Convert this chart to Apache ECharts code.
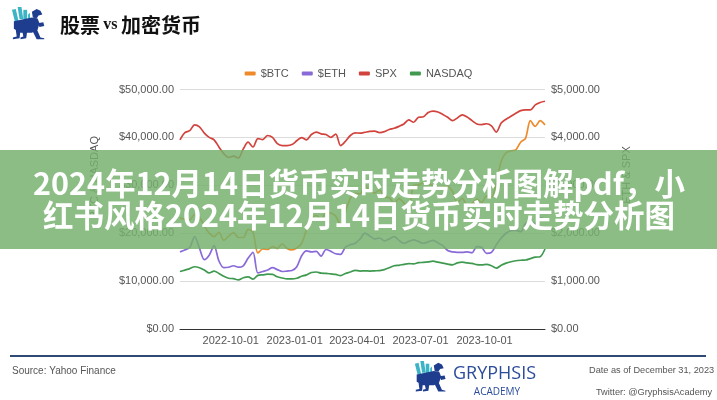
<!DOCTYPE html>
<html><head><meta charset="utf-8">
<script src="https://cdn.jsdelivr.net/npm/echarts@6/dist/echarts.min.js"></script>
<style>html,body{margin:0;padding:0;background:#fff}#c{width:717px;height:400px}</style>
</head><body><div id="c"></div>
<script>
const dates = ['2022-07-20','2022-07-27','2022-08-03','2022-08-10','2022-08-17','2022-08-24','2022-08-31','2022-09-07','2022-09-14','2022-09-21','2022-09-28','2022-10-05','2022-10-12','2022-10-19','2022-10-26','2022-11-02','2022-11-09','2022-11-16','2022-11-23','2022-11-30','2022-12-07','2022-12-14','2022-12-21','2022-12-28',
'2023-01-04','2023-01-11','2023-01-18','2023-01-25','2023-02-01','2023-02-08','2023-02-15','2023-02-22','2023-03-01','2023-03-08','2023-03-15','2023-03-22','2023-03-29','2023-04-05','2023-04-12','2023-04-19','2023-04-26','2023-05-03','2023-05-10','2023-05-17','2023-05-24','2023-05-31','2023-06-07','2023-06-14','2023-06-21','2023-06-28','2023-07-05','2023-07-12','2023-07-19','2023-07-26','2023-08-02','2023-08-09','2023-08-16','2023-08-23','2023-08-30','2023-09-06','2023-09-13','2023-09-20','2023-09-27','2023-10-04','2023-10-11','2023-10-18','2023-10-25','2023-11-01','2023-11-08','2023-11-15','2023-11-22','2023-11-29','2023-12-06','2023-12-13','2023-12-20','2023-12-27'];
const btc = [23200,22900,22800,23900,23300,21500,20000,19300,20200,18500,19400,20100,19100,19100,20800,20200,15900,16700,16600,17200,16800,17800,16800,16500,
16900,17900,20700,23000,23700,22900,24300,24200,23600,21700,24400,27300,28300,28200,30000,28800,28400,29000,27600,27400,26300,27200,26300,25100,30000,30100,30500,30400,29900,29400,29700,29800,28700,26400,27300,25800,26200,27100,26400,27800,27500,30500,35000,36800,37200,37400,39000,39800,43500,42300,43500,42600];
const eth = [1610,1650,1700,1930,1690,1450,1540,1740,1420,1280,1290,1320,1290,1320,1480,1600,1170,1200,1230,1280,1240,1200,1210,1220,
1300,1530,1630,1610,1620,1520,1660,1620,1570,1560,1710,1760,1790,1880,2000,1940,1880,1900,1840,1880,1930,1850,1790,1830,1860,1830,1790,1820,1850,1800,1740,1640,1610,1600,1600,1610,1590,1720,1700,1580,1600,1760,1900,2000,2050,2060,2030,2200,2240,2200,2320,2300];
const spx = [3950,4100,4140,4260,4220,4090,4000,3950,3800,3660,3580,3610,3570,3760,3900,3800,3975,3955,4040,4000,3870,3830,3830,3850,
3930,3996,3950,4060,4110,4075,4060,4000,4070,3830,3920,4040,4093,4090,4107,4125,4130,4100,4120,4165,4190,4230,4280,4366,4316,4420,4430,4520,4550,4530,4480,4420,4350,4407,4470,4425,4350,4280,4268,4285,4240,4110,4300,4380,4440,4505,4560,4575,4575,4680,4730,4755];
const nasdaq = [12000,12300,12600,13000,12800,12300,11700,12100,11600,11000,10600,10500,10250,10700,10900,10400,11200,11300,11450,11400,10900,10650,10450,10450,
10600,11000,11300,11800,11900,11650,11600,11500,11400,11150,11600,11900,12250,12100,12150,12100,12150,12200,12400,12800,13200,13300,13500,13650,13600,13850,13900,14000,14150,13950,13750,13550,13400,13800,13950,13800,13700,13450,13400,13500,13200,12700,13300,13750,14050,14250,14350,14400,14700,15000,15100,16700];
const seriesNames = ['$BTC','$ETH','SPX','NASDAQ'];
const xTickLabels = ['2022-10-01','2023-01-01','2023-04-01','2023-07-01','2023-10-01'];
const titleParts = ['股票','vs','加密货币'];
const bannerLines = ['2024年12月14日货币实时走势分析图解pdf，小','红书风格2024年12月14日货币实时走势分析图'];

function ts(s){const p=s.split('-');return new Date(+p[0],+p[1]-1,+p[2]).getTime();}
function pad(n){return (n<10?'0':'')+n;}
function fmtDate(v){const d=new Date(v);return d.getFullYear()+'-'+pad(d.getMonth()+1)+'-'+pad(d.getDate());}
function money(v){return '$'+Number(v).toLocaleString('en-US',{minimumFractionDigits:2,maximumFractionDigits:2});}
function pairs(arr){return arr.map((v,i)=>[ts(dates[i]),v]);}

const colors = ['#ef8a2c','#8a6ad6','#d2433d','#3f9a4f'];
const FONT = 'Arial, "Liberation Sans", sans-serif';

function logo(x,y,s){
  const teal='#3cb4c6', blue='#1e3d8f';
  const P=(pts,c)=>({type:'polygon',shape:{points:pts},style:{fill:c}});
  return {type:'group',x:x,y:y,scaleX:s,scaleY:s,z:50,children:[
    P([[1,3],[5,2],[8,15],[4,15]],teal),
    P([[7,0],[11,0],[13,13],[9,13]],teal),
    P([[13,3],[17,3],[17,14],[13,14]],teal),
    P([[18,8],[20,6],[20,14],[18,14]],teal),
    P([[22,5],[27,2],[31,4],[33,8],[29,9],[27,12],[23,11]],blue),
    P([[3,15],[22,11],[28,12],[30,17],[28,24],[22,27],[10,27],[3,23]],blue),
    P([[5,24],[10,24],[9,33],[2,34],[2,32],[6,31]],blue),
    P([[12,26],[17,26],[16,33],[10,34],[10,32],[13,31]],blue),
    P([[22,24],[27,23],[31,32],[35,33],[35,34],[27,34]],blue),
    P([[28,17],[34,16],[35,20],[30,21]],blue)
  ]};
}

const chart = echarts.init(document.getElementById('c'),null,{renderer:'canvas'});
chart.setOption({
  backgroundColor:'#ffffff',
  animation:false,
  color:colors,
  legend:{
    top:63,left:'center',
    data:seriesNames,
    icon:'roundRect',itemWidth:11,itemHeight:4,itemGap:13,
    textStyle:{fontFamily:FONT,fontSize:11,color:'#555'}
  },
  grid:{left:180,right:172,top:89.5,bottom:71,containLabel:false},
  xAxis:{
    type:'value',
    min:ts(dates[0]),max:ts(dates[dates.length-1]),
    axisLine:{show:true,onZero:false,lineStyle:{color:'#333',width:1}},
    axisTick:{show:false},
    splitLine:{show:false},
    axisLabel:{customValues:xTickLabels.map(ts),formatter:v=>fmtDate(v),fontFamily:FONT,fontSize:11,color:'#555',margin:6}
  },
  yAxis:[
    {type:'value',min:0,max:50000,interval:10000,
     axisLine:{show:false},axisTick:{show:false},
     splitLine:{lineStyle:{color:'#dcdcdc',width:1}},
     axisLabel:{formatter:money,fontFamily:FONT,fontSize:11,color:'#555',margin:6}},
    {type:'value',min:0,max:5000,interval:1000,position:'right',
     axisLine:{show:false},axisTick:{show:false},
     splitLine:{show:false},
     axisLabel:{formatter:money,fontFamily:FONT,fontSize:11,color:'#555',margin:6}}
  ],
  series:[
    {name:'$BTC',type:'line',yAxisIndex:0,data:pairs(btc),smooth:0.3,showSymbol:false,lineStyle:{width:1.7}},
    {name:'$ETH',type:'line',yAxisIndex:1,data:pairs(eth),smooth:0.3,showSymbol:false,lineStyle:{width:1.7}},
    {name:'SPX',type:'line',yAxisIndex:1,data:pairs(spx),smooth:0.3,showSymbol:false,lineStyle:{width:1.7}},
    {name:'NASDAQ',type:'line',yAxisIndex:0,data:pairs(nasdaq),smooth:0.3,showSymbol:false,lineStyle:{width:1.7}}
  ],
  graphic:[
    logo(11,7,0.95),
    {type:'text',x:60,y:25,z:50,style:{
      text:'{a|'+titleParts[0]+'} {b|'+titleParts[1]+'} {a|'+titleParts[2]+'}',
      verticalAlign:'middle',
      rich:{a:{fontFamily:'"Noto Sans CJK SC"',fontSize:20,fontWeight:'bold',fill:'#111'},
            b:{fontFamily:'"Liberation Serif", "DejaVu Serif", serif',fontSize:16,fontWeight:'bold',fill:'#111'}}}},
    {type:'text',x:95,y:177,rotation:Math.PI/2,z:50,style:{text:'BTC & NASDAQ',align:'center',verticalAlign:'middle',fontFamily:FONT,fontSize:11,fill:'#555'}},
    {type:'text',x:627,y:175,rotation:Math.PI/2,z:50,style:{text:'ETH & SPX',align:'center',verticalAlign:'middle',fontFamily:FONT,fontSize:11,fill:'#555'}},
    {type:'line',z:50,shape:{x1:10,y1:356,x2:706,y2:356},style:{stroke:'#2f4a74',lineWidth:2}},
    {type:'text',x:12,y:371,z:50,style:{text:'Source: Yahoo Finance',verticalAlign:'middle',fontFamily:FONT,fontSize:10,fill:'#555'}},
    logo(414,361,0.9),
    {type:'text',x:453,y:374,z:50,style:{text:'GRYPHSIS',verticalAlign:'middle',fontFamily:'"Open Sans", Roboto, sans-serif',fontSize:18,fill:'#2b4c9b'}},
    {type:'text',x:497,y:392,z:50,style:{text:'ACADEMY',align:'center',verticalAlign:'middle',fontFamily:'"Open Sans", Roboto, sans-serif',fontSize:10,fill:'#2b4c9b'}},
    {type:'text',x:589,y:370,z:50,style:{text:'Date as of December 31, 2023',verticalAlign:'middle',fontFamily:FONT,fontSize:9.2,fill:'#555'}},
    {type:'text',x:596,y:392,z:50,style:{text:'Twitter: @GryphsisAcademy',verticalAlign:'middle',fontFamily:FONT,fontSize:9.2,fill:'#555'}},
    {type:'rect',z:100,shape:{x:0,y:150,width:717,height:99},style:{fill:'rgba(118,176,108,0.84)'}},
    {type:'text',x:359,y:183,z:101,style:{text:bannerLines[0],align:'center',verticalAlign:'middle',fontFamily:'"Noto Sans CJK SC"',fontSize:30.5,fontWeight:'bold',fill:'#ffffff'}},
    {type:'text',x:359,y:215,z:101,style:{text:bannerLines[1],align:'center',verticalAlign:'middle',fontFamily:'"Noto Sans CJK SC"',fontSize:30.5,fontWeight:'bold',fill:'#ffffff'}}
  ]
});
</script></body></html>
